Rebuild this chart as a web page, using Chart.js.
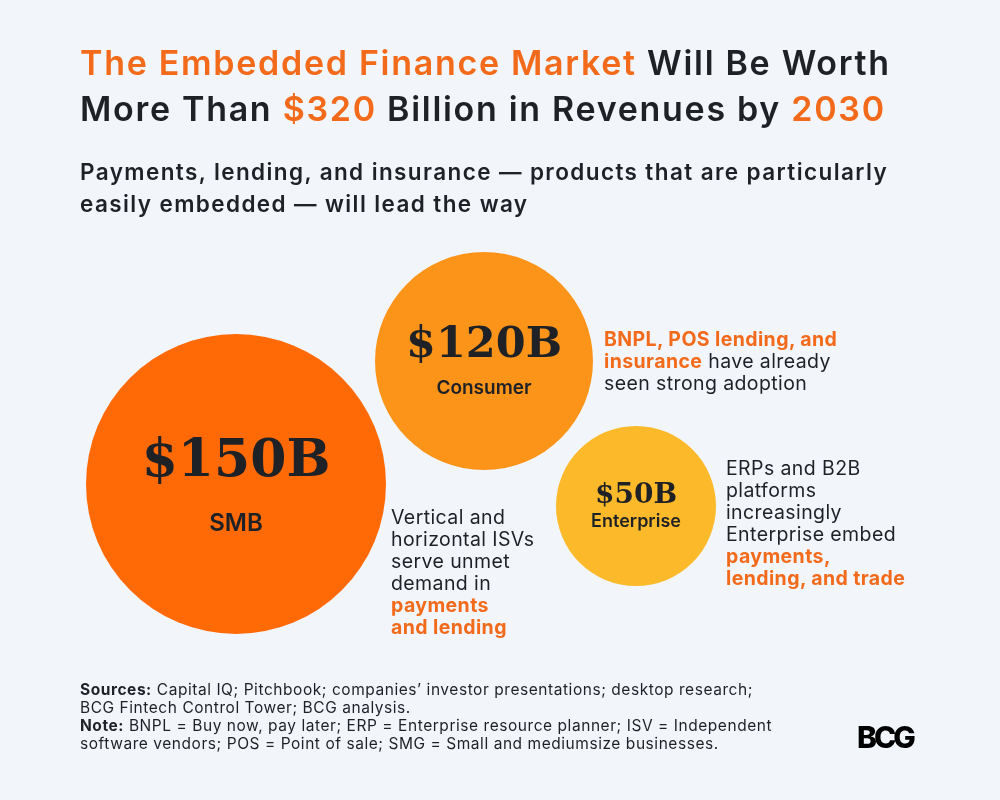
<!DOCTYPE html>
<html>
<head>
<meta charset="utf-8">
<script src="https://cdn.jsdelivr.net/npm/chart.js@4.4.1/dist/chart.umd.min.js"></script>
<style>
  html, body { margin: 0; padding: 0; background: #f2f6fb; }
  #wrap { position: relative; width: 1000px; height: 800px; overflow: hidden; font-family: Inter, "Open Sans", sans-serif; color: #1e2126; }
  #chart { position: absolute; left: 0; top: 0; }
  .txt { position: absolute; white-space: nowrap; }
  .or { color: #f26a1a; }
  h1 { position: absolute; left: 80px; top: 40px; margin: 0; font-size: 34px; line-height: 46px; font-weight: 600; letter-spacing: 1.7px; }
  h2 { position: absolute; left: 80px; top: 156px; margin: 0; font-size: 22.5px; line-height: 32px; font-weight: 600; letter-spacing: 1.4px; }
  .note { font-size: 19.5px; line-height: 22px; font-weight: 400; letter-spacing: 0.4px; }
  .note b { font-weight: 700; }
  #foot { left: 80px; top: 681px; font-size: 15.5px; line-height: 18px; letter-spacing: 0.55px; }
  #logo { left: 857px; top: 720px; font-size: 30px; font-weight: 800; letter-spacing: -3px; color: #000; line-height: 34px; }
</style>
</head>
<body>
<div id="wrap">
  <canvas id="chart" width="1000" height="800"></canvas>
  <h1><span class="or">The Embedded Finance Market</span> Will Be Worth<br>More Than <span class="or">$320</span> Billion in Revenues by <span class="or">2030</span></h1>
  <h2>Payments, lending, and insurance — products that are particularly<br>easily embedded — will lead the way</h2>
  <div class="txt note" style="left:604px; top:328px;"><b class="or">BNPL, POS lending, and<br>insurance</b> have already<br>seen strong adoption</div>
  <div class="txt note" style="left:391px; top:506px;">Vertical and<br>horizontal ISVs<br>serve unmet<br>demand in<br><b class="or">payments<br>and lending</b></div>
  <div class="txt note" style="left:726px; top:457px;">ERPs and B2B<br>platforms<br>increasingly<br>Enterprise embed<br><b class="or">payments,<br>lending, and trade</b></div>
  <div class="txt" id="foot"><b>Sources:</b> Capital IQ; Pitchbook; companies’ investor presentations; desktop research;<br>BCG Fintech Control Tower; BCG analysis.<br><b>Note:</b> BNPL = Buy now, pay later; ERP = Enterprise resource planner; ISV = Independent<br>software vendors; POS = Point of sale; SMG = Small and mediumsize businesses.</div>
  <div class="txt" id="logo">BCG</div>
</div>
<script>
// market size by segment, $B by 2030
const segments = ["SMB", "Consumer", "Enterprise"];
const revenue = [150, 120, 50];

// bubble layout (page units) and look
const bubbleX = [236, 484, 636];
const bubbleY = [484, 361, 506];
const bubbleR = [150, 109, 80];
const colors = ["#ff6a07", "#fd941a", "#fcba2b"];
const valueFont = [52, 43, 28];
const valueDy = [-22, -15, -10];
const labelFont = [24, 19, 18];
const labelDy = [40, 27, 16];

// the bubble controller pads the chart area by the largest radius,
// so widen the axis ranges by the same amount to keep page units
const pad = Math.max(...bubbleR);

const bubbleText = {
  id: "bubbleText",
  afterDatasetsDraw(chart) {
    const ctx = chart.ctx;
    const meta = chart.getDatasetMeta(0);
    ctx.save();
    ctx.textAlign = "center";
    ctx.textBaseline = "middle";
    ctx.fillStyle = "#1e2126";
    meta.data.forEach((pt, i) => {
      ctx.font = "bold " + valueFont[i] + "px 'DejaVu Serif', serif";
      ctx.fillText("$" + revenue[i] + "B", pt.x, pt.y + valueDy[i]);
      ctx.font = "600 " + labelFont[i] + "px Inter, sans-serif";
      ctx.fillText(segments[i], pt.x, pt.y + labelDy[i]);
    });
    ctx.restore();
  },
};

new Chart(document.getElementById("chart"), {
  type: "bubble",
  data: {
    labels: segments,
    datasets: [
      {
        label: "Revenue 2030",
        data: revenue.map((v, i) => ({ x: bubbleX[i], y: bubbleY[i] })),
        radius: (c) => bubbleR[c.dataIndex],
        hoverRadius: 0,
        backgroundColor: colors,
        borderWidth: 0,
        clip: false,
      },
    ],
  },
  plugins: [bubbleText],
  options: {
    responsive: false,
    animation: false,
    events: [],
    layout: { padding: 0 },
    plugins: {
      legend: { display: false },
      tooltip: { enabled: false },
    },
    scales: {
      x: { type: "linear", min: pad, max: 1000 - pad, display: false },
      y: { type: "linear", min: pad, max: 800 - pad, reverse: true, display: false },
    },
  },
});
</script>
</body>
</html>
